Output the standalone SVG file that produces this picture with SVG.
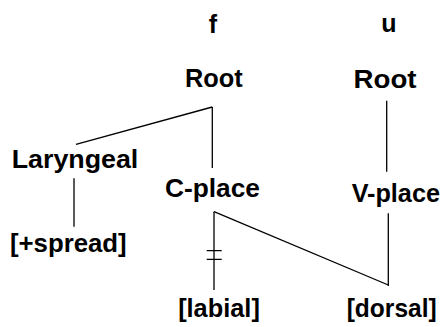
<svg xmlns="http://www.w3.org/2000/svg" width="445" height="327" viewBox="0 0 445 327">
<style>
text{font-family:"Liberation Sans",Arial,sans-serif;font-weight:bold;font-size:25px;fill:#000;text-anchor:middle}
.ln{stroke:#000;stroke-width:1.3;fill:none}
</style>
<rect width="445" height="327" fill="#fff"/>
<g id="connectors">
<path class="ln" d="M212.3 107 L76 144.3"/>
<path class="ln" d="M212.3 107 V168"/>
<path class="ln" d="M386.7 100.7 V171.7"/>
<path class="ln" d="M74 178.3 V226.7"/>
<path class="ln" d="M214 211.7 V290"/>
<path class="ln" d="M206.7 250.7 H221.7 M206.7 259.3 H221.7"/>
<path class="ln" d="M214 211.7 L388.3 285"/>
<path class="ln" d="M388.3 213.3 V286"/>
</g>
<g id="seg-f"><text x="213" y="33">f</text></g>
<g id="seg-u"><text x="389" y="32">u</text></g>
<g id="root-f"><text x="213.8" y="87" textLength="57.7" lengthAdjust="spacingAndGlyphs">Root</text></g>
<g id="root-u"><text x="385" y="88" textLength="63" lengthAdjust="spacingAndGlyphs">Root</text></g>
<g id="laryngeal"><text x="75" y="168" textLength="126.6" lengthAdjust="spacingAndGlyphs">Laryngeal</text></g>
<g id="c-place"><text x="212.5" y="197" textLength="95" lengthAdjust="spacingAndGlyphs">C-place</text></g>
<g id="v-place"><text x="395.8" y="202" textLength="88.3" lengthAdjust="spacingAndGlyphs">V-place</text></g>
<g id="spread"><text x="68.3" y="252" textLength="116.7" lengthAdjust="spacingAndGlyphs">[+spread]</text></g>
<g id="labial"><text x="219" y="317" textLength="81.7" lengthAdjust="spacingAndGlyphs">[labial]</text></g>
<g id="dorsal"><text x="391.7" y="317" textLength="90" lengthAdjust="spacingAndGlyphs">[dorsal]</text></g>
</svg>
